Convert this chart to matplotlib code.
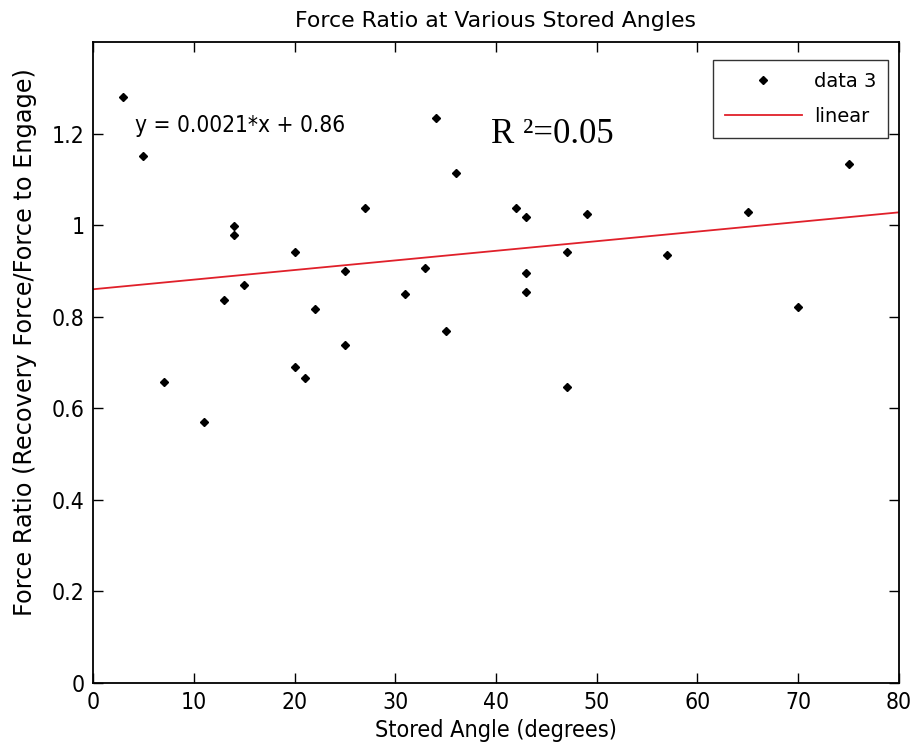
import matplotlib
matplotlib.use("Agg")
import matplotlib.pyplot as plt
import numpy as np

# stored angle (degrees) and force ratio
angle = [3, 5, 7, 11, 13, 14, 14, 15, 20, 20, 21, 22, 25, 25, 27, 31, 33, 34,
         35, 36, 42, 43, 43, 43, 47, 47, 49, 57, 65, 70, 75]
ratio = [1.281, 1.152, 0.657, 0.571, 0.836, 0.998, 0.979, 0.869, 0.941, 0.690,
         0.666, 0.817, 0.900, 0.738, 1.038, 0.850, 0.906, 1.233, 0.769, 1.115,
         1.038, 1.018, 0.896, 0.854, 0.941, 0.646, 1.025, 0.935, 1.029, 0.821,
         1.134]

slope = 0.0021
intercept = 0.86
r2 = 0.05

xticks = [0, 10, 20, 30, 40, 50, 60, 70, 80]
yticks = [0, 0.2, 0.4, 0.6, 0.8, 1.0, 1.2]
ytick_labels = ['0', '0.2', '0.4', '0.6', '0.8', '1', '1.2']

plt.rcParams['font.family'] = ['DejaVu Sans']
plt.rcParams['font.stretch'] = 'condensed'

fig = plt.figure(figsize=(9.11, 7.49), dpi=100)
ax = fig.add_axes([0.1021, 0.0881, 0.8847, 0.8558])

ax.plot(angle, ratio, 'D', color='black', ms=4.5, ls='none', label='data 3')
xs = np.array([0, 80])
ax.plot(xs, slope * xs + intercept, color='#e0202a', lw=1.3, label='linear')

ax.set_xlim(0, 80)
ax.set_ylim(0, 1.4)
ax.set_xticks(xticks)
ax.set_yticks(yticks)
ax.set_yticklabels(ytick_labels)
ax.tick_params(direction='in', length=7, width=1, top=True, right=True,
               labelsize=16.5, pad=6)
for s in ax.spines.values():
    s.set_linewidth(1.3)

ax.set_title('Force Ratio at Various Stored Angles', fontsize=15.8,
             stretch='normal', pad=11)
ax.set_xlabel('Stored Angle (degrees)', fontsize=16.8, labelpad=3)
ax.set_ylabel('Force Ratio (Recovery Force/Force to Engage)', fontsize=17.3,
              stretch='normal')
ax.yaxis.set_label_coords(-0.0695, 0.532)

ax.text(4.2, 1.217, 'y = %.4f*x + %.2f' % (slope, intercept), fontsize=16.3,
        va='center', ha='left')
ax.text(39.5, 1.18, 'R \u00b2=%.2f' % r2, fontsize=25, family='Liberation Serif',
        stretch='normal', va='baseline', ha='left')

leg = ax.legend(loc='upper right', bbox_to_anchor=(0.9864, 0.9719),
                borderaxespad=0, fontsize=14, prop={'stretch': 'normal', 'size': 14},
                frameon=True, fancybox=False, edgecolor='black',
                handlelength=4.0, handletextpad=0.6, labelspacing=0.85,
                borderpad=0.6, markerfirst=True)
leg.get_frame().set_linewidth(1.0)

fig.savefig('out.png', dpi=100)
